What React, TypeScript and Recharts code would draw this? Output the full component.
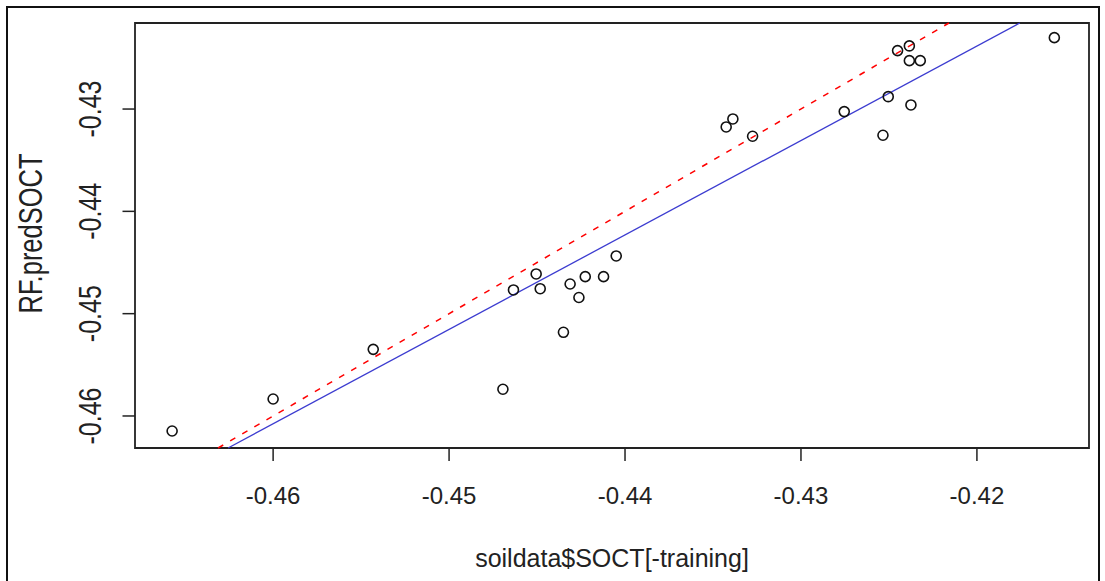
import React from "react";
import { ReferenceArea, ReferenceLine, Scatter, ScatterChart, XAxis, YAxis } from "recharts";

// observed (soildata$SOCT[-training]) vs predicted (RF.predSOCT)
const observedSOCT = [
  -0.46574, -0.46, -0.45431, -0.44694, -0.44634, -0.44505, -0.44482, -0.4435, -0.44312,
  -0.44262, -0.44226, -0.44122, -0.4405, -0.43425, -0.43387, -0.43275, -0.42754, -0.42534,
  -0.42504, -0.42375, -0.42451, -0.42384, -0.42384, -0.42322, -0.4156,
];
const predSOCT = [
  -0.46147, -0.45834, -0.45349, -0.45739, -0.44768, -0.44612, -0.44756, -0.45182, -0.4471,
  -0.44842, -0.44638, -0.44638, -0.44436, -0.43175, -0.43097, -0.43266, -0.43025, -0.43256,
  -0.42879, -0.4296, -0.42429, -0.42383, -0.42527, -0.42527, -0.42302,
];

const xTicks = [-0.46, -0.45, -0.44, -0.43, -0.42];
const yTicks = [-0.46, -0.45, -0.44, -0.43];
const xDomain: [number, number] = [-0.46785, -0.41363];
const yDomain: [number, number] = [-0.46313, -0.42159];

// fitted regression line (blue) and 1:1 line (red dashed), ends at the plot edges
const fitLine = [
  { x: -0.46256, y: -0.46313 },
  { x: -0.41756, y: -0.42159 },
];
const oneToOne = [
  { x: -0.46313, y: -0.46313 },
  { x: -0.42159, y: -0.42159 },
];

const points = observedSOCT.map((x, i) => ({ x, y: predSOCT[i] }));

const FONT = "'Liberation Sans', Arial, sans-serif";

function OpenCircle(props: any) {
  return <circle cx={props.cx} cy={props.cy} r={5} fill="none" stroke="#111" strokeWidth={1.6} />;
}

function XTick(props: any) {
  const { x, y, payload } = props;
  return (
    <text x={x} y={y + 43} textAnchor="middle" fontFamily={FONT} fontSize={24} fill="#222">
      {payload.value.toFixed(2)}
    </text>
  );
}

function YTick(props: any) {
  const { x, y, payload } = props;
  const bx = x - 22;
  return (
    <text
      transform={`translate(${bx},${y}) rotate(-90) scale(1,1.28)`}
      x={0}
      y={0}
      textAnchor="middle"
      fontFamily={FONT}
      fontSize={25}
      fill="#222"
    >
      {payload.value.toFixed(2)}
    </text>
  );
}

function YTitle(props: any) {
  const vb = props.viewBox;
  const cy = vb.y + vb.height / 2 - 2;
  return (
    <text
      transform={`translate(${vb.x + 42},${cy}) rotate(-90) scale(1,1.3)`}
      x={0}
      y={0}
      textAnchor="middle"
      fontFamily={FONT}
      fontSize={25.5}
      fill="#222"
    >
      RF.predSOCT
    </text>
  );
}

export default function App() {
  return (
    <div style={{ position: "absolute", left: 0, top: 0, width: 1105, height: 581, background: "#fff", overflow: "hidden" }}>
      <ScatterChart width={1105} height={581} margin={{ top: 23, right: 16, bottom: 0, left: 0 }}>
        <XAxis
          type="number"
          dataKey="x"
          domain={xDomain}
          ticks={xTicks}
          allowDataOverflow
          axisLine={false}
          tickSize={13}
          tickMargin={0}
          tickLine={{ stroke: "#222", strokeWidth: 1.5 }}
          tick={<XTick />}
          height={133}
          label={{
            value: "soildata$SOCT[-training]",
            position: "insideBottom",
            offset: 14,
            style: { fontFamily: FONT, fontSize: 25, fill: "#222" },
          }}
        />
        <YAxis
          type="number"
          dataKey="y"
          domain={yDomain}
          ticks={yTicks}
          allowDataOverflow
          axisLine={false}
          tickSize={12.5}
          tickMargin={0}
          tickLine={{ stroke: "#222", strokeWidth: 1.5 }}
          tick={<YTick />}
          width={135}
          label={<YTitle />}
        />
        <ReferenceArea
          x1={xDomain[0]}
          x2={xDomain[1]}
          y1={yDomain[0]}
          y2={yDomain[1]}
          fill="none"
          fillOpacity={0}
          stroke="#222"
          strokeWidth={1.8}
          ifOverflow="visible"
        />
        <Scatter data={points} shape={<OpenCircle />} isAnimationActive={false} />
        <ReferenceLine segment={fitLine} stroke="#3c3cd0" strokeWidth={1.3} ifOverflow="visible" />
        <ReferenceLine segment={oneToOne} stroke="#ff0000" strokeWidth={1.5} strokeDasharray="6 8" ifOverflow="visible" />
      </ScatterChart>
      <div
        style={{
          position: "absolute",
          left: 6,
          top: 6,
          width: 1094,
          height: 600,
          boxSizing: "border-box",
          borderLeft: "2px solid #111",
          borderTop: "2px solid #111",
          borderRight: "2px solid #111",
          pointerEvents: "none",
        }}
      />
    </div>
  );
}
